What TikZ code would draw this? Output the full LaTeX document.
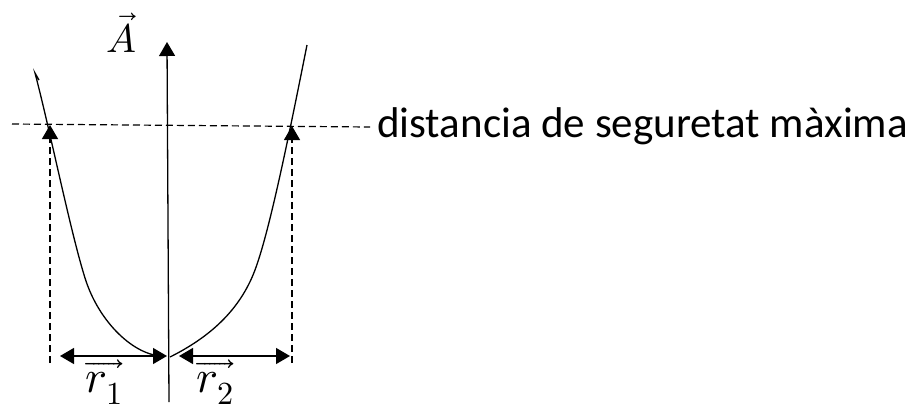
\documentclass[tikz,border=0pt]{standalone}
\usepackage{fontspec}
\usepackage{unicode-math}
\setmathfont{Latin Modern Math}
\setmainfont{Carlito}
\usetikzlibrary{arrows.meta}
\begin{document}
\begin{tikzpicture}[x=1pt,y=-1pt,
  ln/.style={line width=1.3pt},
  dsh/.style={line width=1.2pt,dash pattern=on 7pt off 4pt},
  tip/.style={-{Triangle[width=16pt,length=14pt]}},
  dtip/.style={{Triangle[width=16pt,length=14pt]}-{Triangle[width=16pt,length=14pt]}},
  lbl/.style={inner sep=0pt}]
\useasboundingbox (0,0) rectangle (913,405);
% points
\coordinate (axB) at (169,402);
\coordinate (axT) at (167,42);
\coordinate (hL) at (12,124);
\coordinate (hR) at (370,127);
\coordinate (vLb) at (50,363);
\coordinate (vLt) at (50,125);
\coordinate (vRb) at (292,363);
\coordinate (vRt) at (292,126);
\coordinate (aL1) at (60,356);
\coordinate (aL2) at (167,356);
\coordinate (aR1) at (179,356);
\coordinate (aR2) at (290,356);
% axis
\draw[ln,tip] (axB) -- (axT);
\node[lbl,font=\fontsize{40}{44}\selectfont] (A) at (121,33) {$\vec{A}$};
% dashed horizontal
\draw[dsh] (hL) -- (hR);
\node[lbl,anchor=west,font=\fontsize{43}{48}\selectfont] (txt) at (377,126) {distancia de seguretat màxima};
% dashed verticals with arrowheads
\draw[dsh] (vLb) -- (50,140);
\draw[dsh] (vRb) -- (292,140);
\draw[line width=1.2pt,tip] (50,141) -- (vLt);
\draw[line width=1.2pt,tip] (292,141) -- (vRt);
% curves
\draw[line width=1.3pt] (39,80) -- (35,73)
  .. controls (50,130) and (70,230) .. (85,278)
  .. controls (99,323) and (135,356) .. (163,356);
\draw[line width=1.3pt] (170,357) .. controls (210,337) and (240,310) .. (255,270)
  .. controls (270,230) and (290,130) .. (307,45);
% double arrows
\draw[ln,dtip] (aL1) -- (aL2);
\draw[ln,dtip] (aR1) -- (aR2);
\node[lbl,font=\fontsize{46}{50}\selectfont] (r1) at (104,382) {$\overrightarrow{r_1}$};
\node[lbl,font=\fontsize{46}{50}\selectfont] (r2) at (215,382) {$\overrightarrow{r_2}$};
\end{tikzpicture}
\end{document}
